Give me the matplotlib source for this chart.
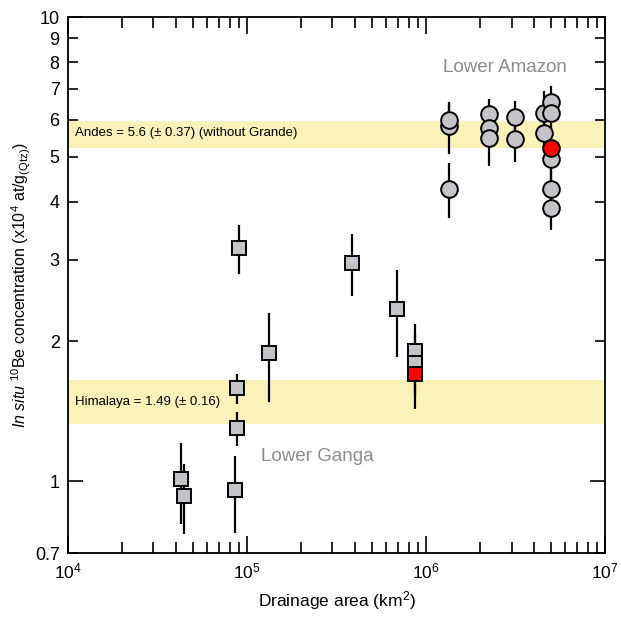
import numpy as np
import matplotlib
matplotlib.use('Agg')
import matplotlib.pyplot as plt
from matplotlib.ticker import FixedLocator, FixedFormatter

plt.rcParams['font.family'] = ['Liberation Sans', 'DejaVu Sans']
plt.rcParams['mathtext.fontset'] = 'custom'
plt.rcParams['mathtext.rm'] = 'Liberation Sans'
plt.rcParams['mathtext.it'] = 'Liberation Sans:italic'
plt.rcParams['mathtext.default'] = 'regular'

# Lower Amazon (circles)
amz_area = [1.34e6, 1.34e6, 1.34e6,
            2.24e6, 2.24e6, 2.24e6,
            3.12e6, 3.12e6,
            4.56e6, 4.56e6,
            5.0e6, 5.0e6, 5.0e6, 5.0e6, 5.0e6]
amz_conc = [5.82, 6.0, 4.27,
            6.17, 5.78, 5.48,
            6.1, 5.47,
            6.22, 5.62,
            6.55, 6.2, 4.95, 4.25, 3.88]
amz_err = [0.75, 0.45, 0.58,
           0.5, 0.5, 0.7,
           0.5, 0.6,
           0.7, 0.5,
           0.55, 0.5, 0.5, 0.5, 0.4]
amz_red_area = [5.0e6]
amz_red_conc = [5.22]

# Lower Ganga (squares)
gan_area = [4.25e4, 4.43e4, 8.58e4, 8.8e4, 8.8e4, 9.03e4,
            1.32e5, 3.88e5, 6.9e5, 8.7e5, 8.7e5]
gan_conc = [1.01, 0.93, 0.955, 1.3, 1.585, 3.18,
            1.89, 2.95, 2.35, 1.91, 1.80]
gan_err = [0.2, 0.16, 0.18, 0.11, 0.12, 0.38,
           0.41, 0.45, 0.5, 0.27, 0.27]
gan_red_area = [8.7e5]
gan_red_conc = [1.70]
gan_red_err = [0.27]

# reference bands: mean, sd
andes_mean, andes_sd = 5.6, 0.37
hima_mean, hima_sd = 1.49, 0.16

# decade ticks drawn long, the rest short
ymajor = [1, 10]
ymajor_labels = ['1', '10']
yminor = [0.7, 2, 3, 4, 5, 6, 7, 8, 9]
yminor_labels = ['0.7', '2', '3', '4', '5', '6', '7', '8', '9']

fig = plt.figure(figsize=(6.21, 6.17), dpi=100)
ax = fig.add_axes([0.1095, 0.1037, 0.865, 0.8687])

band_col = '#FAF2B8'
ax.axhspan(andes_mean - andes_sd, andes_mean + andes_sd, color=band_col, lw=0, zorder=0)
ax.axhspan(hima_mean - hima_sd, hima_mean + hima_sd, color=band_col, lw=0, zorder=0)
ax.text(1.1e4, andes_mean + 0.02, 'Andes = 5.6 (\u00b1 0.37) (without Grande)',
        fontsize=9.5, va='center', ha='left')
ax.text(1.1e4, hima_mean - 0.01, 'Himalaya = 1.49 (\u00b1 0.16)',
        fontsize=9.5, va='center', ha='left')

fill = '#C4C4C8'
ax.errorbar(gan_area, gan_conc, yerr=gan_err, fmt='none', ecolor='black',
            elinewidth=1.6, capsize=0, zorder=2)
ax.errorbar(gan_red_area, gan_red_conc, yerr=gan_red_err, fmt='none', ecolor='black',
            elinewidth=1.6, capsize=0, zorder=2)
ax.errorbar(amz_area, amz_conc, yerr=amz_err, fmt='none', ecolor='black',
            elinewidth=1.6, capsize=0, zorder=2)

ax.plot(gan_area, gan_conc, 's', ms=10.5, mfc=fill, mec='black', mew=1.4, zorder=3)
ax.plot(gan_red_area, gan_red_conc, 's', ms=10.5, mfc='#FF0000', mec='black', mew=1.4, zorder=3)
ax.plot(amz_area, amz_conc, 'o', ms=12, mfc=fill, mec='black', mew=1.4, zorder=3)
ax.plot(amz_red_area, amz_red_conc, 'o', ms=12, mfc='#FF0000', mec='black', mew=1.4, zorder=4)

ax.text(2.75e6, 7.8, 'Lower Amazon', color='#8C8C8C', fontsize=13.5, ha='center', va='center')
ax.text(2.48e5, 1.13, 'Lower Ganga', color='#8C8C8C', fontsize=13.5, ha='center', va='center')

ax.set_xscale('log')
ax.set_yscale('log')
ax.set_xlim(1e4, 1e7)
ax.set_ylim(0.7, 10)

ax.yaxis.set_major_locator(FixedLocator(ymajor))
ax.yaxis.set_major_formatter(FixedFormatter(ymajor_labels))
ax.yaxis.set_minor_locator(FixedLocator(yminor))
ax.yaxis.set_minor_formatter(FixedFormatter(yminor_labels))

ax.tick_params(which='both', direction='in', top=True, right=True, width=1.2)
ax.tick_params(axis='y', which='both', labelsize=13)
ax.tick_params(axis='x', which='both', labelsize=12.5)
ax.tick_params(axis='y', which='major', length=11, pad=6)
ax.tick_params(axis='y', which='minor', length=7.5, pad=6)
ax.tick_params(axis='x', which='major', length=12, pad=6)
ax.tick_params(axis='x', which='minor', length=8)
for s in ax.spines.values():
    s.set_linewidth(1.3)

ax.set_xlabel('Drainage area (km$^2$)', fontsize=12.5, labelpad=6)
ax.set_ylabel(r'$\mathit{In\ situ}$ $^{10}$Be concentration (x10$^4$ at/g$_{(Qtz)}$)',
              fontsize=11.5, labelpad=1)

fig.savefig('out.png', dpi=100)
